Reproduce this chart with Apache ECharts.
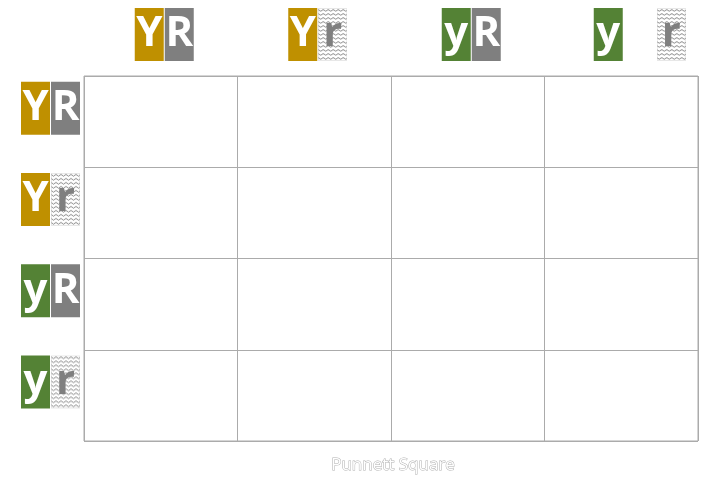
<!DOCTYPE html>
<html>
<head>
<meta charset="utf-8">
<script src="https://cdn.jsdelivr.net/npm/echarts@6/dist/echarts.min.js"></script>
<style>
  html, body { margin: 0; padding: 0; background: #fff; }
  #chart { width: 727px; height: 480px; }
</style>
</head>
<body>
<div id="chart"></div>
<script>
// gametes across the top and down the side
const topGametes = ["YR", "Yr", "yR", "yr"];
const sideGametes = ["YR", "Yr", "yR", "yr"];
// the 16 cells of the square, left empty like the reference
const cells = [
  [0, 0, ""], [1, 0, ""], [2, 0, ""], [3, 0, ""],
  [0, 1, ""], [1, 1, ""], [2, 1, ""], [3, 1, ""],
  [0, 2, ""], [1, 2, ""], [2, 2, ""], [3, 2, ""],
  [0, 3, ""], [1, 3, ""], [2, 3, ""], [3, 3, ""]
];
const chartTitle = "Punnett Square";

// zigzag fill used for the recessive "r" tile
function makeZigzag(w, h) {
  const c = document.createElement("canvas");
  c.width = w;
  c.height = h;
  const ctx = c.getContext("2d");
  ctx.fillStyle = "#fff";
  ctx.fillRect(0, 0, w, h);
  ctx.strokeStyle = "#7a7a7a";
  ctx.lineWidth = 0.9;
  for (let y = 1.5; y < h; y += 4) {
    ctx.beginPath();
    for (let x = 0, k = 0; x <= w + 3; x += 2.5, k++) {
      const yy = y + (k % 2 === 0 ? 0 : 1.8);
      if (k === 0) ctx.moveTo(x, yy);
      else ctx.lineTo(x, yy);
    }
    ctx.stroke();
  }
  ctx.strokeStyle = "#c8c8c8";
  ctx.setLineDash([1, 1]);
  ctx.strokeRect(0.5, 0.5, w - 1, h - 1);
  return c;
}

const zig = makeZigzag(29, 53);
const tile = {
  width: 29, height: 53, lineHeight: 55, align: "center",
  fontSize: 42, fontWeight: "bold", fontFamily: "Open Sans", color: "#fff"
};
const rich = {
  Y: Object.assign({}, tile, { backgroundColor: "#BF9000" }),
  y: Object.assign({}, tile, { backgroundColor: "#548235" }),
  R: Object.assign({}, tile, { backgroundColor: "#7F7F7F" }),
  r: Object.assign({}, tile, { backgroundColor: { image: zig }, color: "#7F7F7F" }),
  s1: { width: 1, height: 53 },
  s7: { width: 7, height: 53 },
  s34: { width: 34, height: 53 },
  s37: { width: 37, height: 53 }
};

function gameteLabel(g, lead, gap) {
  const a = g.charAt(0), b = g.charAt(1);
  return (lead ? "{" + lead + "| }" : "") + "{" + a + "|" + a + "}{" + gap + "| }{" + b + "|" + b + "}";
}

const chart = echarts.init(document.getElementById("chart"));
chart.setOption({
  animation: false,
  title: {
    text: chartTitle,
    left: 388,
    top: 452,
    textAlign: "center",
    textStyle: {
      fontFamily: "Open Sans",
      fontSize: 17,
      fontWeight: "normal",
      color: "#fff",
      textBorderColor: "#b0b0b0",
      textBorderWidth: 1
    }
  },
  grid: {
    left: 84, right: 29, top: 76, bottom: 39,
    show: true, borderColor: "#ababab", borderWidth: 1
  },
  xAxis: {
    type: "category",
    position: "top",
    data: topGametes,
    axisLine: { show: false },
    axisTick: { show: false },
    splitLine: { show: true, lineStyle: { color: "#ababab" } },
    axisLabel: {
      margin: 14,
      interval: 0,
      rich: rich,
      formatter: (v, i) => i === 3 ? gameteLabel(v, "s37", "s34") : gameteLabel(v, "s7", "s1")
    }
  },
  yAxis: {
    type: "category",
    inverse: true,
    data: sideGametes,
    axisLine: { show: false },
    axisTick: { show: false },
    splitLine: { show: true, lineStyle: { color: "#ababab" } },
    axisLabel: {
      margin: 4,
      interval: 0,
      padding: [0, 0, 27, 0],
      rich: rich,
      formatter: (v) => gameteLabel(v, null, "s1")
    }
  },
  series: [{
    type: "heatmap",
    data: cells,
    itemStyle: { color: "rgba(255,255,255,0)", borderColor: "#ababab", borderWidth: 0 },
    label: { show: false },
    emphasis: { disabled: true }
  }]
});
</script>
</body>
</html>
